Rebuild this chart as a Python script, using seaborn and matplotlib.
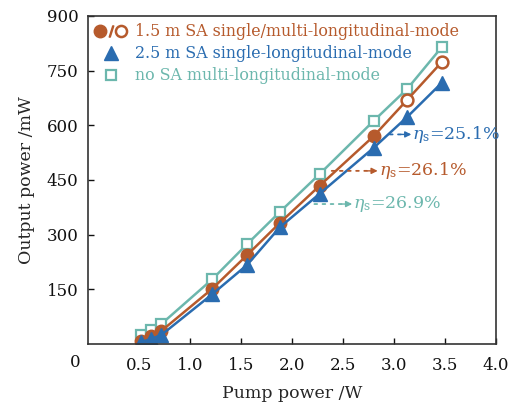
import matplotlib
matplotlib.use("Agg")
import matplotlib.pyplot as plt
import pandas as pd
import seaborn as sns
from matplotlib.lines import Line2D
from matplotlib.legend_handler import HandlerTuple

# values
pump_w = [0.52, 0.62, 0.72, 1.22, 1.56, 1.88, 2.27, 2.80, 3.13, 3.47]
sa15_mw = [8, 22, 36, 152, 244, 332, 434, 570, 670, 774]
sa25_mw = [5, 14, 25, 137, 217, 320, 412, 538, 623, 717]
nosa_mw = [25, 38, 55, 178, 274, 362, 466, 612, 700, 815]
sa15_multi = [False] * 8 + [True] * 2

labels = ["1.5 m SA single/multi-longitudinal-mode",
          "2.5 m SA single-longitudinal-mode",
          "no SA multi-longitudinal-mode"]
slopes = ["25.1%", "26.1%", "26.9%"]

c_orange = "#b65a2c"
c_blue = "#2a6cb0"
c_teal = "#6cb7ad"

sns.set_theme(style="ticks")
plt.rcParams["font.family"] = ["DejaVu Serif"]
plt.rcParams["mathtext.fontset"] = "dejavuserif"

df = pd.DataFrame({"pump": pump_w, "sa15": sa15_mw, "sa25": sa25_mw,
                   "nosa": nosa_mw, "multi": sa15_multi})

fig = plt.figure(figsize=(5.16, 4.03), dpi=100)
ax = fig.add_axes([0.1705, 0.1464, 0.7907, 0.8140])

# no SA
sns.lineplot(data=df, x="pump", y="nosa", color=c_teal, lw=1.8, ax=ax)
ax.plot(df["pump"], df["nosa"], ls="none", marker="s", ms=7, mfc="white",
        mec=c_teal, mew=1.6)

# 1.5 m SA
sns.lineplot(data=df, x="pump", y="sa15", color=c_orange, lw=1.8, ax=ax)
single = df[~df["multi"]]
multi = df[df["multi"]]
ax.plot(single["pump"], single["sa15"], ls="none", marker="o", ms=9,
        mfc=c_orange, mec=c_orange)
ax.plot(multi["pump"], multi["sa15"], ls="none", marker="o", ms=8.5,
        mfc="white", mec=c_orange, mew=1.8)

# 2.5 m SA
sns.lineplot(data=df, x="pump", y="sa25", color=c_blue, lw=1.8, ax=ax)
ax.plot(df["pump"], df["sa25"], ls="none", marker="^", ms=10,
        mfc=c_blue, mec=c_blue)

ax.set_xlim(0, 4.0)
ax.set_ylim(0, 900)
ax.set_xticks([0.5, 1.0, 1.5, 2.0, 2.5, 3.0, 3.5, 4.0])
ax.set_xticklabels(["0.5", "1.0", "1.5", "2.0", "2.5", "3.0", "3.5", "4.0"])
ax.set_yticks([150, 300, 450, 600, 750, 900])
ax.tick_params(direction="in", length=4, width=1, labelsize=12,
               colors="#111111", pad=7)
ax.tick_params(axis="x", pad=9)
for s in ax.spines.values():
    s.set_color("#333333")
    s.set_linewidth(1.2)
ax.text(-0.032, -0.055, "0", transform=ax.transAxes, ha="center",
        va="center", fontsize=12, color="#111111")

ax.set_xlabel("Pump power /W", fontsize=12.5, labelpad=8)
ax.set_ylabel("Output power /mW", fontsize=12.5, labelpad=8)

# slope efficiency notes
notes = [(slopes[0], c_blue, 2.96, 3.17, 575),
         (slopes[1], c_orange, 2.39, 2.84, 475),
         (slopes[2], c_teal, 2.22, 2.59, 384)]
for txt, col, x0, x1, y in notes:
    ax.annotate("", xy=(x1, y), xytext=(x0, y),
                arrowprops=dict(arrowstyle="-", ls=(0, (1.5, 3)), color=col,
                                lw=1.3, shrinkA=0, shrinkB=0))
    ax.annotate("", xy=(x1, y), xytext=(x1 - 0.1, y),
                arrowprops=dict(arrowstyle="-|>", color=col, lw=1,
                                mutation_scale=9, shrinkA=0, shrinkB=0))
    ax.text(x1 + 0.01, y, r"$\eta_\mathrm{s}$=" + txt, color=col,
            fontsize=12.5, ha="left", va="center")

h_orange = (Line2D([], [], ls="none", marker="o", ms=9, color=c_orange),
            Line2D([], [], ls="none", marker="$/$", ms=8, color=c_orange),
            Line2D([], [], ls="none", marker="o", ms=8, mfc="white",
                   mec=c_orange, mew=1.8))
h_blue = Line2D([], [], ls="none", marker="^", ms=10, color=c_blue)
h_teal = Line2D([], [], ls="none", marker="s", ms=7, mfc="white",
                mec=c_teal, mew=1.6)
ax.legend([h_orange, h_blue, h_teal], labels, loc="upper left",
          frameon=False, fontsize=11.4,
          handler_map={tuple: HandlerTuple(ndivide=None, pad=0)},
          handlelength=2.0, handletextpad=0.5, labelspacing=0.32,
          borderaxespad=0.05, labelcolor=[c_orange, c_blue, c_teal])

fig.savefig("out.png", dpi=100)
